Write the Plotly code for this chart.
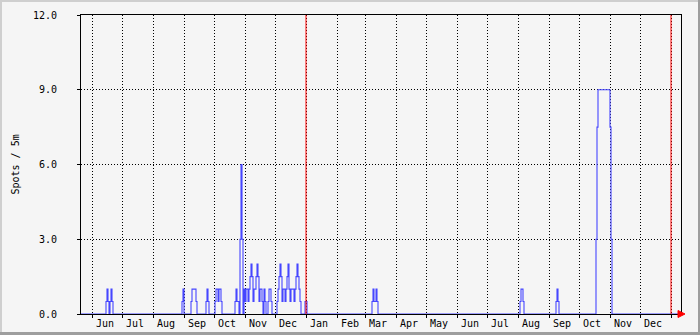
import plotly.graph_objects as go
import pandas as pd

# ---- data ----
burst_starts = [
    "2022-06-15", "2022-08-30", "2022-09-08", "2022-09-23", "2022-10-02",
    "2022-10-22", "2022-12-03", "2022-12-31", "2023-03-08", "2023-08-03",
    "2023-09-08", "2023-10-18",
]
burst_values = [
    [0.5, 1, 0.5, 0, 0.5, 1, 0.5, 0],
    [0.5, 1, 0],
    [0.5, 1, 1, 1, 1, 0.5, 0],
    [0.5, 1, 0.5, 0],
    [0.5, 1, 1, 0.5, 1, 1, 0.5, 0],
    [0.5, 1, 0.5, 0.5, 0, 3, 6, 3, 0, 1, 0.5, 1, 1, 0.5, 1, 1.5, 2, 1.5, 0.5,
     1, 1, 1.5, 2, 1.5, 0.5, 1, 1, 0.5, 0, 1, 0.5, 0, 0, 0.5, 1, 1, 0.5, 0],
    [0.5, 1, 1.5, 2, 1.5, 0.5, 1, 1, 0.5, 1, 1.5, 2, 1, 0.5, 1, 1, 1, 0.5, 1,
     1.5, 2, 1.5, 1, 0.5, 0],
    [0.5, 0.5, 0],
    [0.5, 1, 0.5, 0.5, 1, 0.5, 0],
    [0.5, 1, 1, 0.5, 0],
    [0.5, 1, 0.5, 0],
    [3, 7.5, 9, 9, 9, 9, 9, 9, 9, 9, 9, 9, 9, 9, 7.5, 3, 0],
]
x_start, x_end = "2022-05-21", "2024-01-11"

month_tick_dates = [
    "2022-06-14", "2022-07-14", "2022-08-14", "2022-09-14", "2022-10-14",
    "2022-11-14", "2022-12-14", "2023-01-14", "2023-02-14", "2023-03-14",
    "2023-04-14", "2023-05-14", "2023-06-14", "2023-07-14", "2023-08-14",
    "2023-09-14", "2023-10-14", "2023-11-14", "2023-12-14",
]
month_tick_labels = ["Jun", "Jul", "Aug", "Sep", "Oct", "Nov", "Dec", "Jan",
                     "Feb", "Mar", "Apr", "May", "Jun", "Jul", "Aug", "Sep",
                     "Oct", "Nov", "Dec"]
y_ticks = [0, 3, 6, 9, 12]
year_marks = ["2023-01-01", "2024-01-01"]
y_title = "Spots / 5m"

# ---- build series ----
xs = [pd.Timestamp(x_start)]
ys = [0]
for s, vals in zip(burst_starts, burst_values):
    for d, v in zip(pd.date_range(s, periods=len(vals), freq="D"), vals):
        xs.append(d)
        ys.append(v)
xs.append(pd.Timestamp(x_end))
ys.append(0)

W, H = 700, 335
ML, MR, MT, MB = 81, 19, 15, 21
PW, PH = W - ML - MR, H - MT - MB


def xp(px):
    return (px - ML) / PW


def yp(py):
    return (H - MB - py) / PH


FONT = "DejaVu Sans Mono"
BG = "#f5f5f5"

fig = go.Figure()
fig.add_trace(go.Scatter(x=xs, y=ys, mode="lines", line_shape="hv",
                         line=dict(color="#4646ff", width=1.1),
                         hoverinfo="skip", showlegend=False))

shapes = []
for ym in year_marks:
    shapes.append(dict(type="line", xref="x", yref="paper", x0=ym, x1=ym,
                       y0=0, y1=1, line=dict(color="#ff0000", width=1)))
# arrow at end of x axis
ax0, ax1 = xp(678), xp(685)
ah = 3.5 / PH
shapes.append(dict(type="path", xref="paper", yref="paper",
                   path=f"M {ax0} {ah} L {ax1} 0 L {ax0} {-ah} Z",
                   fillcolor="#ff0000", line=dict(color="#ff0000", width=1)))
# outer frame
shapes += [
    dict(type="rect", xref="paper", yref="paper", x0=xp(0), x1=xp(W), y0=yp(2), y1=yp(0),
         fillcolor="#cfcfcf", line=dict(width=0), layer="above"),
    dict(type="rect", xref="paper", yref="paper", x0=xp(0), x1=xp(2), y0=yp(H), y1=yp(0),
         fillcolor="#cfcfcf", line=dict(width=0), layer="above"),
    dict(type="rect", xref="paper", yref="paper", x0=xp(0), x1=xp(W), y0=yp(H), y1=yp(H - 3),
         fillcolor="#9e9e9e", line=dict(width=0), layer="above"),
    dict(type="rect", xref="paper", yref="paper", x0=xp(W - 2), x1=xp(W), y0=yp(H), y1=yp(0),
         fillcolor="#9e9e9e", line=dict(width=0), layer="above"),
]

fig.update_layout(
    width=W, height=H,
    margin=dict(l=ML, r=MR, t=MT, b=MB, pad=0, autoexpand=False),
    paper_bgcolor=BG, plot_bgcolor=BG,
    font=dict(family=FONT, size=10, color="#000000"),
    shapes=shapes,
    annotations=[dict(text=y_title, xref="paper", yref="paper", x=xp(15), y=0.5,
                      textangle=-90, showarrow=False, xanchor="center",
                      yanchor="middle", font=dict(family=FONT, size=10))],
)
fig.update_xaxes(
    type="date", range=[x_start, x_end], automargin=False,
    tickmode="array", tickvals=month_tick_dates, ticktext=month_tick_labels,
    ticks="", showgrid=False, zeroline=False,
    showline=True, linecolor="#000000", linewidth=1, mirror=True,
    minor=dict(dtick="M1", tick0="2022-06-01", showgrid=True,
               gridcolor="#000000", griddash="1px,2px", gridwidth=1,
               ticks="outside", ticklen=3, tickcolor="#000000", tickwidth=1),
    tickfont=dict(family=FONT, size=10),
)
fig.update_yaxes(
    range=[0, 12], automargin=False, tickmode="array", tickvals=y_ticks,
    ticktext=[f"{v:.1f}" for v in y_ticks],
    ticks="outside", ticklen=3, tickcolor="#000000",
    showgrid=True, gridcolor="#000000", griddash="1px,2px", gridwidth=1,
    zeroline=False, showline=True, linecolor="#000000", linewidth=1, mirror=True,
    ticklabelstandoff=18,
    tickfont=dict(family=FONT, size=10),
)

fig.write_html("out.html")
